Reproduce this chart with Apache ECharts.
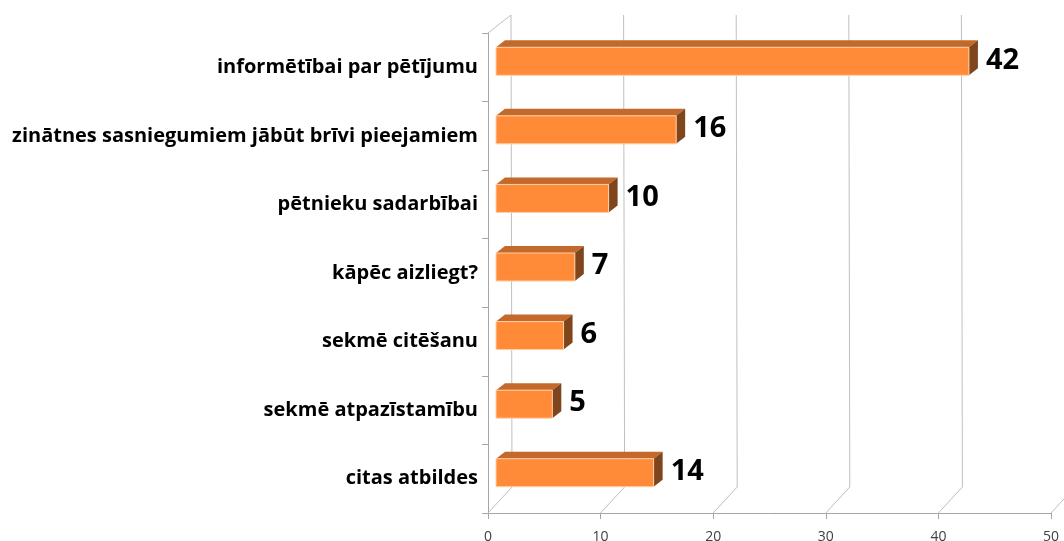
<!DOCTYPE html>
<html>
<head>
<meta charset="utf-8">
<script src="https://cdn.jsdelivr.net/npm/echarts@6/dist/echarts.min.js"></script>
<style>
  html, body { margin: 0; padding: 0; background: #fff; }
  #chart { width: 1064px; height: 541px; }
</style>
</head>
<body>
<div id="chart"></div>
<script>
// kategorijas (no augšas uz leju)
const categories = [
  'informētībai par pētījumu',
  'zinātnes sasniegumiem jābūt brīvi pieejamiem',
  'pētnieku sadarbībai',
  'kāpēc aizliegt?',
  'sekmē citēšanu',
  'sekmē atpazīstamību',
  'citas atbildes'
]
const values = [42, 16, 10, 7, 6, 5, 14]
const gridValues = [0, 10, 20, 30, 40, 50]

// 3D nobīdes (px)
const WALL_DX = 24
const WALL_DY = 26
const BAR_DX = 9
const BAR_DY = 7

const chart = echarts.init(document.getElementById('chart'))

const option = {
  animation: false,
  grid: { left: 488, right: 13, top: 33, bottom: 28, outerBoundsMode: 'none' },
  xAxis: {
    type: 'value',
    min: 0,
    max: 50,
    interval: 10,
    axisLine: { show: true, lineStyle: { color: '#a6a6a6', width: 1 } },
    axisTick: { show: true, length: 6, lineStyle: { color: '#a6a6a6' } },
    axisLabel: { color: '#404040', fontSize: 14, margin: 17, fontFamily: 'Open Sans' },
    splitLine: { show: false }
  },
  yAxis: {
    type: 'category',
    inverse: true,
    data: categories,
    axisLine: { show: true, lineStyle: { color: '#a6a6a6', width: 1 } },
    axisTick: { show: true, length: 6, lineStyle: { color: '#a6a6a6' } },
    axisLabel: {
      color: '#000',
      fontSize: 20,
      fontWeight: 'bold',
      fontFamily: 'Open Sans',
      margin: 10
    },
    splitLine: { show: false }
  },
  series: [
    {
      // aizmugurējā siena un grīda
      type: 'custom',
      clip: false,
      z: 1,
      silent: true,
      encode: { x: 0, y: 1 },
      data: gridValues.map(v => [v, 0]),
      renderItem (params, api) {
        const cs = params.coordSys
        const x = api.coord([api.value(0), 0])[0]
        const bottom = cs.y + cs.height
        const style = { stroke: '#bfbfbf', lineWidth: 1, fill: null }
        const children = [
          { type: 'line', shape: { x1: x + WALL_DX - 1, y1: cs.y - 18, x2: x + WALL_DX, y2: bottom - WALL_DY }, style },
          { type: 'line', shape: { x1: x, y1: bottom, x2: x + WALL_DX, y2: bottom - WALL_DY }, style }
        ]
        if (params.dataIndex === 0) {
          children.push({ type: 'line', shape: { x1: x, y1: cs.y, x2: x + WALL_DX - 1, y2: cs.y - 18 }, style })
        }
        return { type: 'group', children }
      }
    },
    {
      // 3D stabiņi
      type: 'custom',
      clip: false,
      z: 5,
      encode: { x: 0, y: 1 },
      data: values.map((v, i) => [v, i]),
      renderItem (params, api) {
        const v = api.value(0)
        const i = api.value(1)
        const p0 = api.coord([0, i])
        const p1 = api.coord([v, i])
        const x0 = p0[0] + 8
        const x1 = p1[0] + 8
        const yc = p0[1] - 6
        const yt = yc - 14
        const yb = yc + 14
        return {
          type: 'group',
          children: [
            {
              type: 'polygon',
              shape: { points: [[x0, yt], [x1, yt], [x1 + BAR_DX, yt - BAR_DY], [x0 + BAR_DX, yt - BAR_DY]] },
              style: { fill: '#c2692b' }
            },
            {
              type: 'polygon',
              shape: { points: [[x1, yt], [x1 + BAR_DX, yt - BAR_DY], [x1 + BAR_DX, yb - BAR_DY], [x1, yb]] },
              style: { fill: '#7f451c' }
            },
            {
              type: 'rect',
              shape: { x: x0, y: yt, width: x1 - x0, height: yb - yt },
              style: { fill: '#ff8a37', stroke: '#ffd0a8', lineWidth: 1 }
            },
            {
              type: 'text',
              x: x1 + BAR_DX + 8,
              y: yc - 1,
              style: {
                text: String(v),
                fill: '#000',
                font: 'bold 29px "Open Sans"',
                align: 'left',
                verticalAlign: 'middle'
              }
            }
          ]
        }
      }
    }
  ]
}

chart.setOption(option)
</script>
</body>
</html>
